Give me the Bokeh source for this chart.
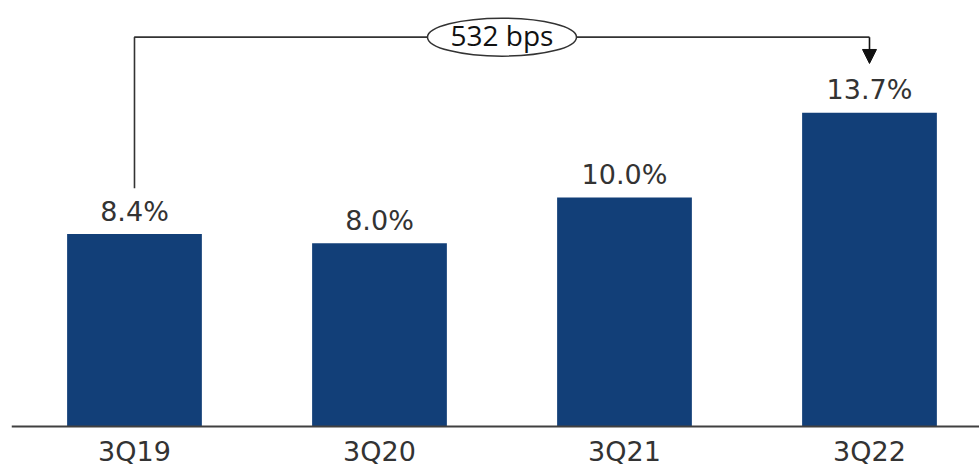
from bokeh.plotting import figure
from bokeh.models import Range1d, FixedTicker, Arrow, NormalHead
from bokeh.core.properties import value
from bokeh.embed import file_html
from bokeh.resources import INLINE

# Quarterly margin data
quarters = ["3Q19", "3Q20", "3Q21", "3Q22"]
margins = [8.4, 8.0, 10.0, 13.7]
change_label = "532 bps"

xs = list(range(len(quarters)))
value_labels = [f"{v:.1f}%" for v in margins]

BAR_COLOR = "#123F78"
TEXT_COLOR = "#333333"
LINE_COLOR = "#333333"

p = figure(
    width=979, height=467,
    output_backend="svg", toolbar_location=None,
    x_range=Range1d(-0.502, 3.449),
    y_range=Range1d(-1.79, 18.6),
    y_axis_location=None,
    min_border_left=11, min_border_right=0,
    min_border_top=0, min_border_bottom=0,
)
p.outline_line_color = None
p.grid.visible = False
p.background_fill_color = "white"
p.border_fill_color = "white"

# Bars
p.vbar(x=xs, top=margins, bottom=0, width=0.55,
       fill_color=BAR_COLOR, line_color=None)

# Value labels above each bar
p.text(x=xs, y=margins, text=value_labels,
       text_align="center", text_baseline="alphabetic", y_offset=-23,
       text_font=value("DejaVu Sans"), text_font_size="27px",
       text_color=TEXT_COLOR)

# Category axis, drawn along the zero line
xaxis = p.xaxis[0]
xaxis.fixed_location = 0
xaxis.ticker = FixedTicker(ticks=xs)
xaxis.major_label_overrides = {i: q for i, q in zip(xs, quarters)}
xaxis.axis_line_color = "#404040"
xaxis.axis_line_width = 2
xaxis.major_tick_line_color = None
xaxis.minor_tick_line_color = None
xaxis.major_tick_out = 0
xaxis.major_tick_in = 0
xaxis.major_label_standoff = 9
xaxis.major_label_text_font = "DejaVu Sans"
xaxis.major_label_text_font_size = "27px"
xaxis.major_label_text_color = TEXT_COLOR

# Bracket from first to last quarter with the change in basis points
first, last = xs[0], xs[-1]
bracket_y = max(margins) + 3.3
p.line(x=[first, first, last], y=[margins[0] + 2.0, bracket_y, bracket_y],
       line_color=LINE_COLOR, line_width=1.6)
p.add_layout(Arrow(
    x_start=last, y_start=bracket_y, x_end=last, y_end=margins[-1] + 2.15,
    line_color="#111111", line_width=1.6,
    end=NormalHead(size=14, fill_color="#111111", line_color="#111111"),
))

mid = (first + last) / 2
p.ellipse(x=[mid], y=[bracket_y], width=149, height=38,
          width_units="screen", height_units="screen",
          fill_color="white", line_color=LINE_COLOR, line_width=1.5)
p.text(x=[mid], y=[bracket_y], text=[change_label],
       text_align="center", text_baseline="middle", y_offset=-2,
       text_font=value("Open Sans"), text_font_size="28px",
       text_color="#111111")

open("out.html", "w").write(file_html(p, INLINE))
